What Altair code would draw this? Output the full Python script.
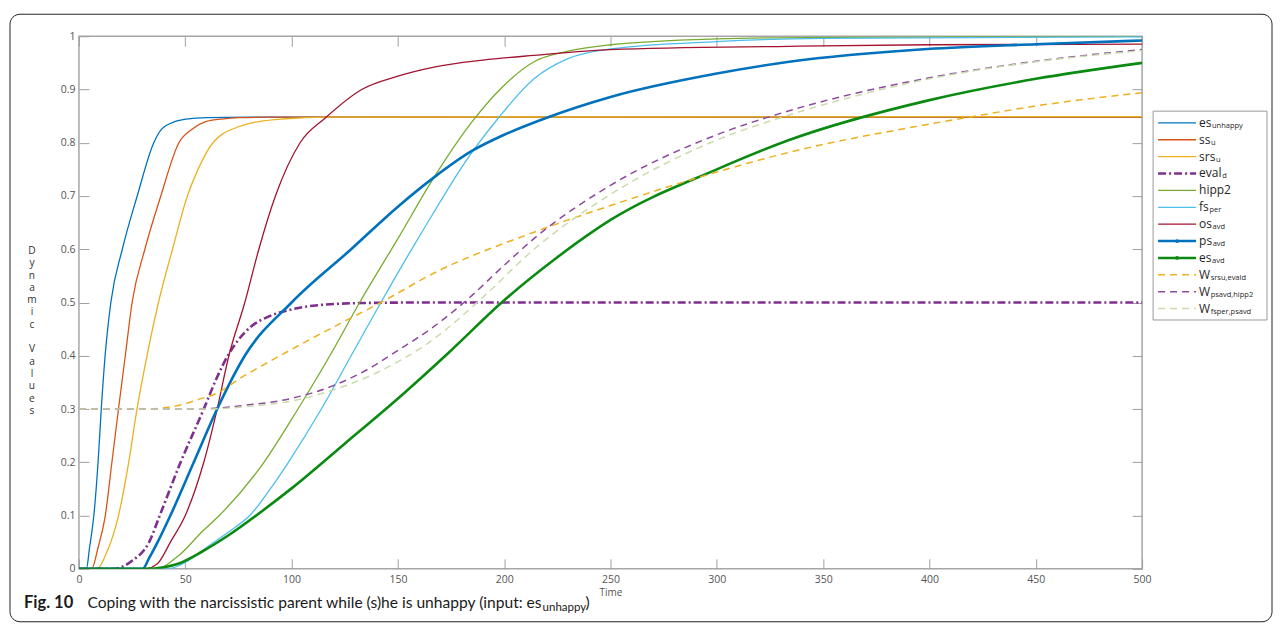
import altair as alt
import pandas as pd

# ---------------- data ----------------
SERIES = ["es_unhappy", "ss_u", "srs_u", "eval_d", "hipp2", "fs_per", "os_avd",
          "ps_avd", "es_avd", "W_srs_eval", "W_ps_hipp2", "W_fs_ps"]

ES_UNHAPPY_T = [0, 3.5, 5, 7, 9, 10.5, 12.3, 15, 20.4, 27.4, 35.2, 39, 45.4, 51.7, 60, 80, 500]
ES_UNHAPPY_V = [0, 0, 0.04, 0.1, 0.2, 0.3, 0.4, 0.5, 0.6, 0.7, 0.8, 0.826, 0.84, 0.845, 0.847, 0.848, 0.848]

SS_U_T = [0, 6, 9, 12.4, 15.5, 18.6, 21.8, 25, 31, 38.5, 47, 53, 60, 68, 75, 90, 500]
SS_U_V = [0, 0, 0.04, 0.1, 0.2, 0.3, 0.4, 0.5, 0.6, 0.7, 0.8, 0.825, 0.84, 0.845, 0.847, 0.848, 0.848]

SRS_U_T = [0, 8.5, 13, 18.6, 23.4, 27.3, 32, 37.4, 44, 51, 56, 63, 75, 85, 97, 117, 500]
SRS_U_V = [0, 0, 0.03, 0.1, 0.2, 0.3, 0.4, 0.5, 0.6, 0.7, 0.75, 0.8, 0.83, 0.84, 0.845, 0.848, 0.849]

EVAL_D_T = [0, 15.7, 25, 33, 38, 47.8, 58.7, 65, 70, 75, 81, 90, 100, 110, 133, 160, 500]
EVAL_D_V = [0, 0, 0.015, 0.05, 0.1, 0.2, 0.3, 0.36, 0.4, 0.43, 0.455, 0.475, 0.487, 0.494, 0.499, 0.5, 0.5]

HIPP2_T = [0, 36, 47, 58, 66, 87, 103, 118, 132, 150, 167, 185, 198, 214, 230, 250, 300, 350, 500]
HIPP2_V = [0, 0, 0.025, 0.07, 0.1, 0.2, 0.3, 0.4, 0.5, 0.62, 0.735, 0.84, 0.9, 0.952, 0.972, 0.984, 0.995, 0.998, 1.0]

FS_PER_T = [0, 42, 50, 60, 70, 81, 90, 98.5, 114, 128, 142, 155, 167, 181, 197, 214, 230, 250, 300, 350, 500]
FS_PER_V = [0, 0, 0.012, 0.04, 0.068, 0.103, 0.15, 0.2, 0.3, 0.4, 0.5, 0.59, 0.67, 0.76, 0.845, 0.92, 0.958, 0.976, 0.99, 0.996, 0.999]

OS_AVD_T = [0, 31, 37, 43, 50, 58.7, 65, 70.5, 78, 84.6, 92.4, 104, 116, 133, 150, 167, 190, 214, 250, 334, 400, 500]
OS_AVD_V = [0, 0, 0.01, 0.05, 0.1, 0.2, 0.3, 0.4, 0.5, 0.6, 0.7, 0.8, 0.847, 0.9, 0.925, 0.942, 0.955, 0.964, 0.975, 0.981, 0.984, 0.985]

PS_AVD_T = [0, 30, 33, 37, 43, 54, 65, 78, 100, 128, 150, 167, 185, 200, 220, 250, 300, 334, 399, 450, 500]
PS_AVD_V = [0, 0, 0.02, 0.05, 0.1, 0.2, 0.3, 0.4, 0.5, 0.6, 0.68, 0.735, 0.785, 0.815, 0.847, 0.886, 0.93, 0.952, 0.976, 0.985, 0.992]

ES_AVD_T = [0, 31, 40, 47, 57.8, 70, 85, 100, 125, 151.8, 175, 198.8, 225, 250, 300, 334, 400, 450, 500]
ES_AVD_V = [0, 0, 0.003, 0.01, 0.032, 0.062, 0.105, 0.151, 0.235, 0.326, 0.41, 0.5, 0.585, 0.655, 0.75, 0.805, 0.88, 0.92, 0.95]

W_SRS_EVAL_T = [0, 30, 45, 57.8, 62.7, 78, 100, 125, 142, 166.8, 214, 250, 300, 334, 400, 420, 450, 500]
W_SRS_EVAL_V = [0.3, 0.3, 0.305, 0.32, 0.326, 0.363, 0.412, 0.465, 0.5, 0.555, 0.632, 0.682, 0.745, 0.782, 0.835, 0.849, 0.869, 0.894]

W_PS_HIPP2_T = [0, 55, 78, 100, 119, 136, 150, 167, 182.5, 200, 214, 250, 300, 334, 400, 450, 500]
W_PS_HIPP2_V = [0.3, 0.3, 0.307, 0.32, 0.343, 0.375, 0.41, 0.455, 0.505, 0.57, 0.62, 0.72, 0.815, 0.86, 0.922, 0.953, 0.975]

W_FS_PS_T = [0, 60, 80, 100, 119, 141, 167, 190, 214, 250, 300, 334, 400, 450, 500]
W_FS_PS_V = [0.3, 0.3, 0.305, 0.315, 0.335, 0.37, 0.432, 0.51, 0.6, 0.703, 0.805, 0.852, 0.92, 0.952, 0.973]

SERIES_T = [ES_UNHAPPY_T, SS_U_T, SRS_U_T, EVAL_D_T, HIPP2_T, FS_PER_T, OS_AVD_T,
            PS_AVD_T, ES_AVD_T, W_SRS_EVAL_T, W_PS_HIPP2_T, W_FS_PS_T]
SERIES_V = [ES_UNHAPPY_V, SS_U_V, SRS_U_V, EVAL_D_V, HIPP2_V, FS_PER_V, OS_AVD_V,
            PS_AVD_V, ES_AVD_V, W_SRS_EVAL_V, W_PS_HIPP2_V, W_FS_PS_V]

# legend texts (main part + subscript)
LEG_MAIN = ["es", "ss", "srs", "eval", "hipp2", "fs", "os", "ps", "es", "W", "W", "W"]
LEG_SUB = ["unhappy", "u", "u", "d", "", "per", "avd", "avd", "avd",
           "srsu,evald", "psavd,hipp2", "fsper,psavd"]

X_TICKS = [0, 50, 100, 150, 200, 250, 300, 350, 400, 450, 500]
Y_TICKS = [0, 0.1, 0.2, 0.3, 0.4, 0.5, 0.6, 0.7, 0.8, 0.9, 1]
Y_TITLE_WORDS = ["Dynamic", "Values"]

# ---------------- styles ----------------
COLORS = ["#0072BD", "#D95319", "#EDB120", "#7E2F8E", "#77AC30", "#4DBEEE", "#A2142F",
          "#0072BD", "#0B8A12", "#EDB120", "#8E4A9E", "#C9DCAA"]
WIDTHS = [1.3, 1.3, 1.3, 2.6, 1.3, 1.3, 1.3, 2.6, 2.6, 1.5, 1.5, 1.5]
DASHES = [None, None, None, [8, 3, 2, 3], None, None, None, None, None, [7, 5], [7, 5], [7, 5]]
MARKER = [False] * 7 + [True, True] + [False] * 3

rows = []
for name, ts, vs in zip(SERIES, SERIES_T, SERIES_V):
    for t, v in zip(ts, vs):
        rows.append({"series": name, "t": t, "v": v})
df = pd.DataFrame(rows)

W, H = 1064, 533
xs = alt.Scale(domain=[0, 500], nice=False, zero=False)
ys = alt.Scale(domain=[0, 1], nice=False, zero=False)

LABEL_FONT = "Open Sans"
AX_GREY = "#a0a0a0"
LBL_GREY = "#555555"

axis_bottom = alt.Axis(orient="bottom", offset=-10, tickSize=10, domain=False, grid=False,
                       values=X_TICKS, labelPadding=6, labelFlush=False, labelOverlap=False,
                       labelFont=LABEL_FONT, labelFontSize=10.5, labelColor=LBL_GREY,
                       tickColor=AX_GREY, tickWidth=1,
                       title="Time", titleFont=LABEL_FONT, titleFontSize=10,
                       titleFontWeight="normal", titleColor=LBL_GREY,
                       titleY=29, titleBaseline="top")
axis_left = alt.Axis(orient="left", offset=-10, tickSize=10, domain=False, grid=False,
                     values=Y_TICKS, format="~g", labelPadding=4, labelFlush=False,
                     labelOverlap=False, labelFont=LABEL_FONT, labelFontSize=10.5,
                     labelColor=LBL_GREY, tickColor=AX_GREY, tickWidth=1, title="")
axis_top = alt.Axis(orient="top", offset=-10, tickSize=10, domain=False, grid=False,
                    values=X_TICKS, labels=False, tickColor=AX_GREY, tickWidth=1, title="")
axis_right = alt.Axis(orient="right", offset=-10, tickSize=10, domain=False, grid=False,
                      values=Y_TICKS, labels=False, tickColor=AX_GREY, tickWidth=1, title="")

layers = []
for i, name in enumerate(SERIES):
    kw = dict(color=COLORS[i], strokeWidth=WIDTHS[i], interpolate="monotone", clip=True)
    if DASHES[i] is not None:
        kw["strokeDash"] = DASHES[i]
    if i == 0:
        ax, ay = axis_bottom, axis_left
    elif i == 1:
        ax, ay = axis_top, axis_right
    else:
        ax, ay = None, None
    layers.append(
        alt.Chart(df).transform_filter(alt.datum.series == name).mark_line(**kw).encode(
            x=alt.X("t:Q", scale=xs, axis=ax),
            y=alt.Y("v:Q", scale=ys, axis=ay),
        )
    )

one = pd.DataFrame({"k": [0]})
PX0, PY0 = 77, 34  # plot origin on the page (for decoration placement)

frame = alt.Chart(one).mark_rect(fill="white", fillOpacity=0, stroke="#222222",
                                 strokeWidth=1, cornerRadius=10).encode(
    x=alt.value(8 - PX0), x2=alt.value(1271 - PX0),
    y=alt.value(12 - PY0), y2=alt.value(620 - PY0))

# vertical (stacked-letter) y-axis title, one text per word
LH = 12.3
ytitle = []
for k, word in enumerate(Y_TITLE_WORDS):
    top = 244 + (0 if k == 0 else (len(Y_TITLE_WORDS[0]) + 1) * LH)
    ytitle.append(
        alt.Chart(one).mark_text(text=list(word), font=LABEL_FONT, fontSize=10.2,
                                 lineHeight=LH, align="center", baseline="top",
                                 color="#333333").encode(
            x=alt.value(30 - PX0), y=alt.value(top - PY0))
    )

CAP_FONT = "Lato"
CAP_Y = 601
cap_fig = alt.Chart(one).mark_text(text="Fig. 10", font=CAP_FONT, fontSize=16.5,
                                   fontWeight="bold", align="left", baseline="middle",
                                   color="#1a1a1a").encode(
    x=alt.value(22 - PX0), y=alt.value(CAP_Y - PY0))
cap_main = alt.Chart(one).mark_text(
    text="Coping with the narcissistic parent while (s)he is unhappy (input: es",
    font=CAP_FONT, fontSize=15.6, align="right", baseline="middle", color="#1a1a1a").encode(
    x=alt.value(540 - PX0), y=alt.value(CAP_Y - PY0))
cap_sub = alt.Chart(one).mark_text(text="unhappy", font=CAP_FONT, fontSize=11.5,
                                   align="left", baseline="middle", color="#1a1a1a").encode(
    x=alt.value(541 - PX0), y=alt.value(CAP_Y + 5 - PY0))
cap_end = alt.Chart(one).mark_text(text=")", font=CAP_FONT, fontSize=15.6,
                                   align="left", baseline="middle", color="#1a1a1a").encode(
    x=alt.value(584 - PX0), y=alt.value(CAP_Y - PY0))

main = alt.layer(frame, *layers, *ytitle, cap_fig, cap_main, cap_sub, cap_end).resolve_axis(
    x="independent", y="independent").properties(width=W, height=H)

# ---------------- legend panel ----------------
LW = 118
CW = {"e": .56, "s": .48, "r": .41, "v": .51, "a": .56, "l": .26, "h": .61, "i": .26,
      "p": .61, "2": .57, "f": .34, "o": .6, "W": .93, "u": .61}
LEG_FS = 12
TEXT_X = 48
leg = pd.DataFrame({
    "idx": list(range(len(LEG_MAIN))),
    "main": LEG_MAIN,
    "sub": LEG_SUB,
    "subx": [TEXT_X + sum(CW.get(c, .55) for c in m) * LEG_FS + 0.5 for m in LEG_MAIN],
})
leg_y = alt.Scale(domain=[-5.13, 26.41], reverse=True, nice=False, zero=False)
leg_x = alt.Scale(domain=[0, LW], nice=False, zero=False)

leg_layers = [
    alt.Chart(one).mark_rect(fill="white", stroke="#9a9a9a", strokeWidth=1).encode(
        x=alt.value(2), x2=alt.value(116), y=alt.value(109 - PY0), y2=alt.value(318 - PY0))
]
for i in range(len(LEG_MAIN)):
    kw = dict(color=COLORS[i], strokeWidth=WIDTHS[i])
    if DASHES[i] is not None:
        kw["strokeDash"] = DASHES[i]
    leg_layers.append(
        alt.Chart(leg).transform_filter(alt.datum.idx == i).mark_rule(**kw).encode(
            x=alt.value(7), x2=alt.value(45),
            y=alt.Y("idx:Q", scale=leg_y, axis=None))
    )
    if MARKER[i]:
        leg_layers.append(
            alt.Chart(leg).transform_filter(alt.datum.idx == i).mark_point(
                filled=True, color=COLORS[i], size=14, opacity=1).encode(
                x=alt.value(26), y=alt.Y("idx:Q", scale=leg_y, axis=None))
        )
leg_layers.append(
    alt.Chart(leg).mark_text(align="left", baseline="middle", font=LABEL_FONT,
                             fontSize=LEG_FS, color="#262626").encode(
        x=alt.value(TEXT_X), y=alt.Y("idx:Q", scale=leg_y, axis=None), text="main:N")
)
leg_layers.append(
    alt.Chart(leg).mark_text(align="left", baseline="middle", font=LABEL_FONT,
                             fontSize=7.5, dy=3, color="#262626").encode(
        x=alt.X("subx:Q", scale=leg_x, axis=None),
        y=alt.Y("idx:Q", scale=leg_y, axis=None), text="sub:N")
)
legend = alt.layer(*leg_layers).properties(
    width=LW, height=H, view=alt.ViewBackground(strokeOpacity=0))

chart = alt.hconcat(main, legend, spacing=9, bounds="flush").properties(
    padding={"left": 0, "top": 4, "right": 0, "bottom": 0},
    background="white",
).configure_view(stroke="#a6a6a6", strokeWidth=1.5)

chart.save("out.html", embed_options={"renderer": "svg", "actions": False})
